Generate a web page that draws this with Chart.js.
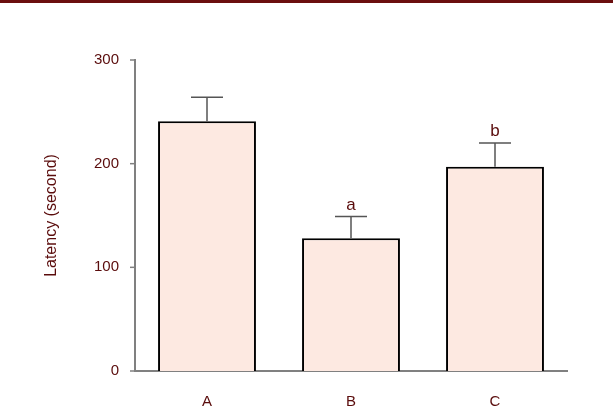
<!DOCTYPE html>
<html><head><meta charset="utf-8">
<script src="https://cdn.jsdelivr.net/npm/chart.js@4"></script>
<style>html,body{margin:0;padding:0;background:#fff}#wrap{width:613px;height:417px;position:relative}</style>
</head><body><div id="wrap"><canvas id="c"></canvas></div>
<script>
const categories = ['A', 'B', 'C'];
const latency = [241, 128, 197];
const errUp = [23, 21, 23];
const letters = ['', 'a', 'b'];
const yTicks = [0, 100, 200, 300];

const TXT = '#5a0c0c';
const FONT = 'Arial, "Liberation Sans"';
const extras = {
  id: 'extras',
  beforeDraw(ch) {
    const c = ch.ctx;
    c.save();
    c.fillStyle = '#6b0f0f';
    c.fillRect(0, 0, ch.width, 3);
    c.restore();
  },
  afterDraw(ch) {
    const c = ch.ctx, y = ch.scales.y, a = ch.chartArea;
    c.save();
    // y title
    c.fillStyle = TXT; c.font = '16px ' + FONT;
    c.translate(52, (a.top + a.bottom) / 2);
    c.rotate(-Math.PI / 2);
    c.textAlign = 'center'; c.textBaseline = 'middle';
    c.fillText('Latency (second)', 0, 0);
    c.restore();
    c.save();
    c.strokeStyle = '#808080'; c.lineWidth = 1.5;
    yTicks.forEach(v => {
      const p = y.getPixelForValue(v);
      c.beginPath(); c.moveTo(a.left - 5, p); c.lineTo(a.left, p); c.stroke();
    });
    c.restore();
  },
  afterDatasetsDraw(ch) {
    const c = ch.ctx, meta = ch.getDatasetMeta(0), y = ch.scales.y;
    c.save();
    c.strokeStyle = '#555'; c.lineWidth = 1.5;
    meta.data.forEach((b, i) => {
      const top = y.getPixelForValue(latency[i] + errUp[i]);
      c.beginPath();
      c.moveTo(b.x, b.y); c.lineTo(b.x, top);
      c.moveTo(b.x - 16, top); c.lineTo(b.x + 16, top);
      c.stroke();
      if (letters[i]) {
        c.fillStyle = TXT; c.font = '17px ' + FONT;
        c.textAlign = 'center'; c.textBaseline = 'bottom';
        c.fillText(letters[i], b.x, top - 3);
      }
    });
    c.restore();
  }
};

new Chart(document.getElementById('c'), {
  type: 'bar',
  data: { labels: categories, datasets: [{
    data: latency, backgroundColor: '#fde9e1', borderColor: '#000', borderWidth: 2,
    categoryPercentage: 1, barPercentage: 0.68
  }]},
  options: {
    responsive: true, maintainAspectRatio: false, animation: false,
    layout: { padding: { top: 60, right: 46, left: 0, bottom: 0 } },
    plugins: { legend: { display: false }, tooltip: { enabled: false } },
    scales: {
      x: {
        grid: { display: false, drawTicks: false },
        border: { color: '#808080', width: 2 },
        ticks: { color: TXT, font: { family: FONT, size: 15 }, padding: 22 },
        afterFit(s) { s.height = 46; }
      },
      y: {
        min: 0, max: 300,
        afterBuildTicks(s) { s.ticks = yTicks.map(v => ({ value: v })); },
        grid: { display: false },
        border: { color: '#808080', width: 2 },
        ticks: { color: TXT, font: { family: FONT, size: 15 }, padding: 8 },
        afterFit(s) { s.width = 135; }
      }
    }
  },
  plugins: [extras]
});
</script></body></html>
